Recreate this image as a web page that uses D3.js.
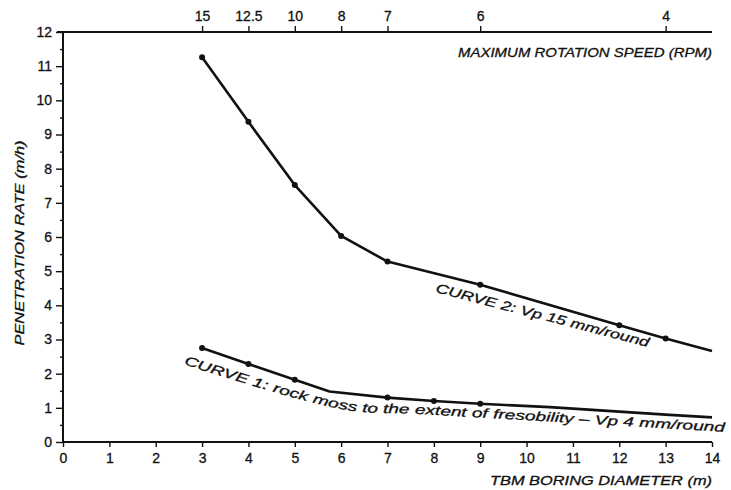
<!DOCTYPE html>
<html>
<head>
<meta charset="utf-8">
<script src="https://cdn.jsdelivr.net/npm/d3@7"></script>
<style>
  body { margin: 0; background: #fff; }
  svg { display: block; }
</style>
</head>
<body>
<div id="chart"></div>
<script>
// TBM boring diameter (m) -> penetration rate (m/h)
const curve2Diameter = [3, 4, 5, 6, 7, 9, 12, 13, 14];
const curve2Rate = [11.26, 9.37, 7.52, 6.03, 5.28, 4.6, 3.42, 3.03, 2.66];
const curve2Marked = [3, 4, 5, 6, 7, 9, 12, 13];

const curve1Diameter = [3, 4, 5, 5.75, 7, 8, 9, 10.5, 13, 14];
const curve1Rate = [2.75, 2.28, 1.82, 1.48, 1.3, 1.2, 1.12, 1.02, 0.8, 0.72];
const curve1Marked = [3, 4, 5, 7, 8, 9];

// top axis: max rotation speed at given diameter
const rpmDiameter = [3, 4, 5, 6, 7, 9, 13];
const rpmLabels = ["15", "12.5", "10", "8", "7", "6", "4"];

const xTicks = d3.range(0, 15);
const yTicks = d3.range(0, 13);
const yMinorTicks = d3.range(0.5, 12, 1);

const width = 731, height = 490;
const fontFamily = "'Liberation Sans', Arial, sans-serif";

const svg = d3.select("#chart").append("svg")
  .attr("width", width)
  .attr("height", height)
  .style("font-family", fontFamily);

const x = d3.scaleLinear().domain([0, 14]).range([63, 712]);
const y = d3.scaleLinear().domain([0, 12]).range([442, 32]);

// axes
const styleAxis = g => {
  g.selectAll(".domain").remove();
  g.selectAll(".tick line").attr("stroke", "#111").attr("stroke-width", 1.4);
  g.selectAll(".tick text")
    .attr("fill", "#111")
    .attr("stroke", "#111").attr("stroke-width", 0.3)
    .style("font-size", "14px");
};

svg.append("g")
  .attr("transform", `translate(0,${y(0)})`)
  .call(d3.axisBottom(x).tickValues(xTicks).tickSize(5).tickPadding(6).tickFormat(d3.format("d")))
  .call(styleAxis);

svg.append("g")
  .attr("transform", `translate(${x(0)},0)`)
  .call(d3.axisLeft(y).tickValues(yTicks).tickSize(7).tickPadding(4).tickFormat(d3.format("d")))
  .call(styleAxis);

svg.append("g")
  .attr("transform", `translate(${x(0)},0)`)
  .call(d3.axisLeft(y).tickValues(yMinorTicks).tickSize(3).tickFormat(""))
  .call(styleAxis);

svg.append("g")
  .attr("transform", `translate(0,${y(12)})`)
  .call(d3.axisTop(x).tickValues(rpmDiameter).tickSize(6).tickPadding(5)
    .tickFormat((d, i) => rpmLabels[i]))
  .call(styleAxis);

// frame lines (left, bottom, top)
const frame = svg.append("g").attr("stroke", "#111").attr("stroke-width", 2).attr("fill", "none");
frame.append("line").attr("x1", x(0)).attr("x2", x(0)).attr("y1", y(12)).attr("y2", y(0));
frame.append("line").attr("x1", x(0)).attr("x2", x(14)).attr("y1", y(0)).attr("y2", y(0));
frame.append("line").attr("x1", x(0) - 6).attr("x2", x(14)).attr("y1", y(12)).attr("y2", y(12));

// curves
const line = d3.line().x(d => x(d[0])).y(d => y(d[1]));
const curves = [
  { xs: curve2Diameter, ys: curve2Rate, marked: curve2Marked },
  { xs: curve1Diameter, ys: curve1Rate, marked: curve1Marked }
];
curves.forEach(c => {
  const pts = c.xs.map((d, i) => [d, c.ys[i]]);
  svg.append("path")
    .attr("d", line(pts))
    .attr("fill", "none")
    .attr("stroke", "#111")
    .attr("stroke-width", 2.6)
    .attr("stroke-linejoin", "round");
  svg.append("g").selectAll("circle")
    .data(pts.filter(p => c.marked.includes(p[0])))
    .join("circle")
    .attr("cx", d => x(d[0]))
    .attr("cy", d => y(d[1]))
    .attr("r", 3)
    .attr("fill", "#111");
});

// shared style for the hand-lettered labels
const lettering = sel => sel
  .style("font-size", "13px").style("font-style", "italic")
  .attr("fill", "#111").attr("stroke", "#111").attr("stroke-width", 0.3);

// axis titles
svg.append("text")
  .attr("x", 458).attr("y", 57)
  .attr("textLength", 254).attr("lengthAdjust", "spacingAndGlyphs")
  .call(lettering)
  .text("MAXIMUM ROTATION SPEED (RPM)");

svg.append("text")
  .attr("x", 490).attr("y", 485)
  .attr("textLength", 222).attr("lengthAdjust", "spacingAndGlyphs")
  .call(lettering)
  .text("TBM BORING DIAMETER (m)");

svg.append("text")
  .attr("transform", "translate(24,243) rotate(-90)")
  .attr("text-anchor", "middle")
  .attr("textLength", 205).attr("lengthAdjust", "spacingAndGlyphs")
  .call(lettering)
  .text("PENETRATION RATE (m/h)");

// curve labels
svg.append("text")
  .attr("transform", "translate(435,292) rotate(14.5)")
  .attr("textLength", 220).attr("lengthAdjust", "spacingAndGlyphs")
  .call(lettering)
  .text("CURVE 2: Vp 15 mm/round");

const labelPath = [[2.5, 2.32], [6.05, 0.95], [7.7, 0.82], [14.5, 0.28]];
svg.append("defs").append("path")
  .attr("id", "curve1-label")
  .attr("d", d3.line().x(d => x(d[0])).y(d => y(d[1])).curve(d3.curveCatmullRom)(labelPath));

svg.append("text")
  .call(lettering)
  .append("textPath")
  .attr("href", "#curve1-label")
  .attr("startOffset", 5)
  .attr("textLength", 548).attr("lengthAdjust", "spacingAndGlyphs")
  .text("CURVE 1: rock moss to the extent of fresobility \u2013 Vp 4 mm/round");
</script>
</body>
</html>
